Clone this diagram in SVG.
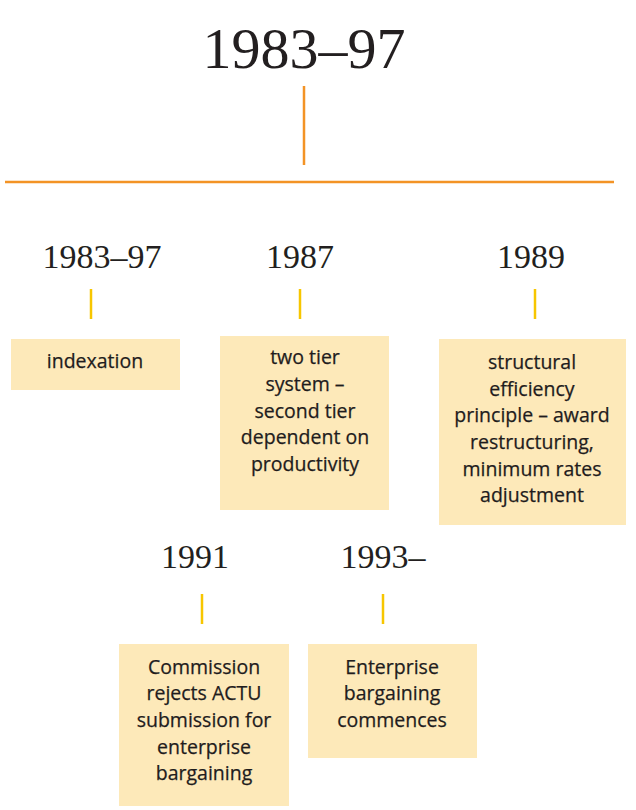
<svg xmlns="http://www.w3.org/2000/svg" width="636" height="810" viewBox="0 0 636 810">
<style>
.yr{font-family:"Liberation Serif","Times New Roman",serif;fill:#231f20;text-anchor:middle;font-variant-numeric:oldstyle-nums}
.bx{fill:#fde9b9}
.tx{font-family:"Open Sans","Noto Sans","Liberation Sans",sans-serif;font-size:19.5px;fill:#1f1c1d;stroke:#1f1c1d;stroke-width:0.25;text-anchor:middle}
.or{stroke:#f39325;stroke-width:2.5;fill:none}
.ye{stroke:#f7c600;stroke-width:2.5;fill:none}
</style>
<rect width="636" height="810" fill="#ffffff"/>
<g id="title"><text class="yr" x="304" y="68" font-size="58">1983–97</text></g>
<g id="connectors">
<line class="or" x1="304" y1="86" x2="304" y2="165"/>
<line class="or" x1="5" y1="182" x2="614" y2="182"/>
<line class="ye" x1="91" y1="289" x2="91" y2="319"/>
<line class="ye" x1="300" y1="289" x2="300" y2="319"/>
<line class="ye" x1="535" y1="289" x2="535" y2="319"/>
<line class="ye" x1="202" y1="594" x2="202" y2="624"/>
<line class="ye" x1="383" y1="594" x2="383" y2="624"/>
</g>
<g id="n1">
<text class="yr" x="102" y="268" font-size="34">1983–97</text>
<rect class="bx" x="11" y="339" width="169" height="51"/>
<text class="tx" x="95" y="368">indexation</text>
</g>
<g id="n2">
<text class="yr" x="300" y="268" font-size="34">1987</text>
<rect class="bx" x="220" y="336" width="169" height="174"/>
<text class="tx" x="305"><tspan x="305" y="364">two tier</tspan><tspan x="305" y="391">system –</tspan><tspan x="305" y="418">second tier</tspan><tspan x="305" y="444">dependent on</tspan><tspan x="305" y="471">productivity</tspan></text>
</g>
<g id="n3">
<text class="yr" x="531" y="268" font-size="34">1989</text>
<rect class="bx" x="439" y="339" width="187" height="186"/>
<text class="tx" x="532"><tspan x="532" y="369">structural</tspan><tspan x="532" y="396">efficiency</tspan><tspan x="532" y="422">principle – award</tspan><tspan x="532" y="449">restructuring,</tspan><tspan x="532" y="476">minimum rates</tspan><tspan x="532" y="502">adjustment</tspan></text>
</g>
<g id="n4">
<text class="yr" x="195" y="568" font-size="34">1991</text>
<rect class="bx" x="119" y="644" width="170" height="162"/>
<text class="tx" x="204"><tspan x="204" y="674">Commission</tspan><tspan x="204" y="700">rejects ACTU</tspan><tspan x="204" y="727">submission for</tspan><tspan x="204" y="754">enterprise</tspan><tspan x="204" y="780">bargaining</tspan></text>
</g>
<g id="n5">
<text class="yr" x="383" y="568" font-size="34">1993–</text>
<rect class="bx" x="308" y="644" width="169" height="114"/>
<text class="tx" x="392"><tspan x="392" y="674">Enterprise</tspan><tspan x="392" y="700">bargaining</tspan><tspan x="392" y="727">commences</tspan></text>
</g>
</svg>
